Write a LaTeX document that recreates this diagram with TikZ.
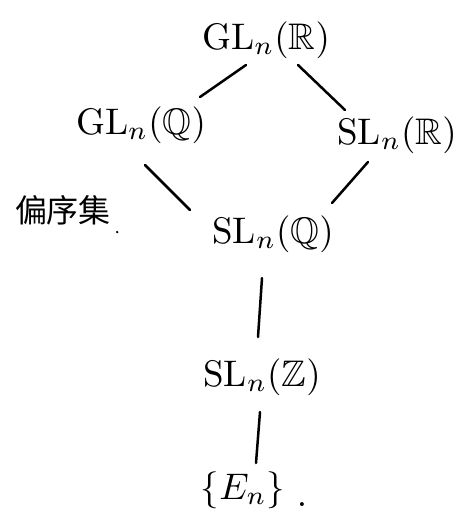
\documentclass[tikz,border=0pt]{standalone}
\usepackage{amssymb}
\usepackage{fontspec}
\usetikzlibrary{calc}
\newfontfamily\cjk{Noto Sans CJK SC}
\begin{document}
\begin{tikzpicture}[x=1pt,y=-1pt,
  grp/.style={inner sep=0.6pt,scale=3.7},
  edge/.style={line width=2.5pt,line cap=round}]
\useasboundingbox (0,0) rectangle (456,525);
% group nodes
\node[grp] (glr) at (266,40)  {$\mathrm{GL}_n(\mathbb{R})$};
\node[grp] (glq) at (141,125) {$\mathrm{GL}_n(\mathbb{Q})$};
\node[grp] (slr) at (397,135) {$\mathrm{SL}_n(\mathbb{R})$};
\node[grp] (slq) at (273,234) {$\mathrm{SL}_n(\mathbb{Q})$};
\node[grp] (slz) at (262,377) {$\mathrm{SL}_n(\mathbb{Z})$};
\node[grp] (en)  at (243,490) {$\{E_n\}$};
\node[grp,anchor=base west,inner sep=0pt] (endot) at ($(en.base east)+(8,7)$) {$.$};
% caption
\node[font=\cjk\fontsize{32}{38}\selectfont,inner sep=0pt] (poset) at (63,210) {偏序集};
\fill (poset.east) ++(6,22) circle (1.3pt);
% Hasse diagram edges
\draw[edge] ($(glr)+(-20,25)$) -- ($(glq)+(59,-28)$);
\draw[edge] ($(glr)+(32,25)$)  -- ($(slr)+(-52,-25)$);
\draw[edge] ($(glq)+(4,40)$)   -- ($(slq)+(-83,-24)$);
\draw[edge] ($(slr)+(-29,27)$) -- ($(slq)+(59,-31)$);
\draw[edge] ($(slq)+(-11,44)$) -- ($(slz)+(-4,-40)$);
\draw[edge] ($(slz)+(-2,35)$)  -- ($(en)+(13,-27)$);
\end{tikzpicture}
\end{document}
